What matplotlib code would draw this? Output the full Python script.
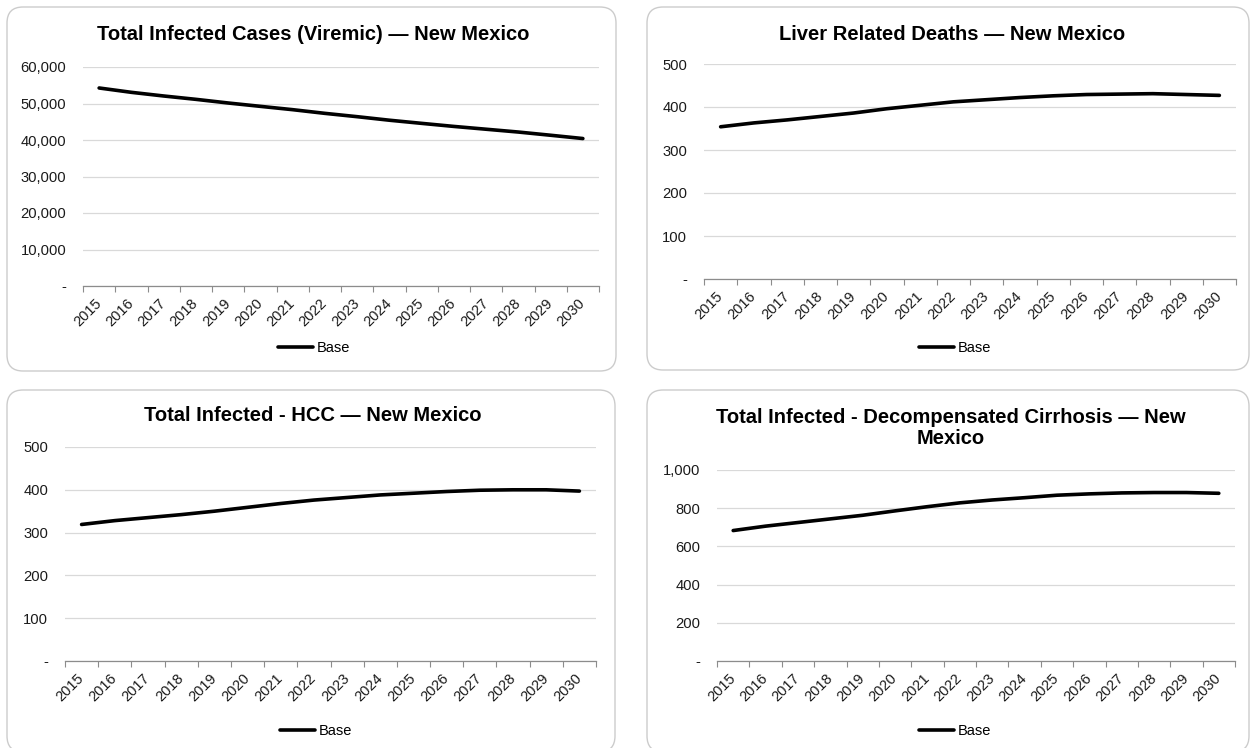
import matplotlib
matplotlib.use("Agg")
import matplotlib.pyplot as plt
from matplotlib.patches import FancyBboxPatch
from matplotlib.ticker import FuncFormatter, FixedLocator

plt.rcParams['font.family'] = ['Liberation Sans', 'DejaVu Sans']

years = [str(y) for y in range(2015, 2031)]

viremic_cases = [54250, 53060, 52060, 51140, 50140, 49220, 48310, 47300,
                 46390, 45420, 44560, 43720, 42950, 42180, 41300, 40400]
liver_deaths = [354, 363, 370, 378, 386, 396, 404, 412,
                417, 422, 426, 429, 430, 431, 429, 427]
hcc_cases = [319, 328, 335, 342, 350, 359, 368, 376,
             382, 388, 392, 396, 399, 400, 400, 397]
decomp_cirrhosis = [683, 706, 725, 744, 763, 786, 808, 828,
                    843, 855, 868, 875, 880, 882, 882, 878]

titles = [
    "Total Infected Cases (Viremic) \u2014 New Mexico",
    "Liver Related Deaths \u2014 New Mexico",
    "Total Infected - HCC \u2014 New Mexico",
    "Total Infected - Decompensated Cirrhosis \u2014 New\nMexico",
]
series_label = "Base"

W, H = 1250, 748
fig = plt.figure(figsize=(W / 100, H / 100), dpi=100)
fig.patch.set_facecolor("white")


def fx(px):
    return px / W


def fy(py):
    return 1 - py / H


def fmt(v, _pos):
    if abs(v) < 1e-9:
        return "-"
    return f"{v:,.0f}"


# panel layout in pixels: box (l, t, r, b), axes (l, t, r, b), title baseline, legend centre
panels = [
    dict(values=viremic_cases, ymax=60000, step=10000,
         box=(7, 7, 616, 371), ax=(83, 67, 599, 286),
         title_xy=(313, 39.5), legend_xy=(314, 348)),
    dict(values=liver_deaths, ymax=500, step=100,
         box=(647, 7, 1249, 370), ax=(704, 64, 1236, 279),
         title_xy=(952, 39.5), legend_xy=(955, 348)),
    dict(values=hcc_cases, ymax=500, step=100,
         box=(7, 390, 615, 752), ax=(65, 447, 596, 661),
         title_xy=(313, 421), legend_xy=(316, 731)),
    dict(values=decomp_cirrhosis, ymax=1000, step=200,
         box=(647, 390, 1249, 752), ax=(717, 470, 1235, 661),
         title_xy=(951, 444), legend_xy=(955, 731)),
]

for p, title in zip(panels, titles):
    bl, bt, br, bb = p["box"]
    box = FancyBboxPatch((bl / 100, (H - bb) / 100), (br - bl) / 100, (bb - bt) / 100,
                         boxstyle="round,pad=0,rounding_size=0.16",
                         transform=fig.dpi_scale_trans, facecolor="white",
                         edgecolor="#cccccc", linewidth=1.0, zorder=-5)
    fig.patches.append(box)

    al, at, ar, ab = p["ax"]
    ax = fig.add_axes([fx(al), fy(ab), fx(ar - al), fy(at) - fy(ab)])
    ax.set_zorder(2)
    ax.set_facecolor("none")
    x = list(range(len(years)))
    ax.plot(x, p["values"], color="black", linewidth=2.6,
            solid_capstyle="round", solid_joinstyle="round", label=series_label, zorder=3)

    ax.set_xlim(-0.5, len(years) - 0.5)
    ax.set_ylim(0, p["ymax"])
    yt = list(range(0, p["ymax"] + 1, p["step"]))
    ax.set_yticks(yt)
    ax.yaxis.set_major_formatter(FuncFormatter(fmt))
    ax.tick_params(axis="y", length=0, pad=12, labelsize=10.6, labelcolor="#1a1a1a")
    ax.grid(axis="y", color="#d9d9d9", linewidth=0.9, zorder=1)
    ax.set_axisbelow(True)

    ax.set_xticks(x)
    ax.set_xticklabels(years, rotation=45, ha="right", va="center",
                       rotation_mode="anchor", fontsize=10.5, color="#1a1a1a")
    ax.tick_params(axis="x", which="major", length=0, pad=11)
    ax.xaxis.set_minor_locator(FixedLocator([i - 0.5 for i in range(len(years) + 1)]))
    ax.tick_params(axis="x", which="minor", length=4.5, width=0.8, color="#8c8c8c",
                   direction="out")

    for s in ("left", "right", "top"):
        ax.spines[s].set_visible(False)
    ax.spines["bottom"].set_color("#8c8c8c")
    ax.spines["bottom"].set_linewidth(0.9)

    tx, ty = p["title_xy"]
    fig.text(fx(tx), fy(ty), title, ha="center", va="baseline", fontsize=14.5,
             fontweight="bold", color="black", linespacing=1.12,
             multialignment="center", zorder=3)

    lx, ly = p["legend_xy"]
    ax.legend(loc="center", bbox_to_anchor=(fx(lx), fy(ly)),
              bbox_transform=fig.transFigure, frameon=False,
              fontsize=10.5, handlelength=2.4, handletextpad=0.2,
              borderpad=0, borderaxespad=0)

fig.savefig("out.png", dpi=100, facecolor="white")
